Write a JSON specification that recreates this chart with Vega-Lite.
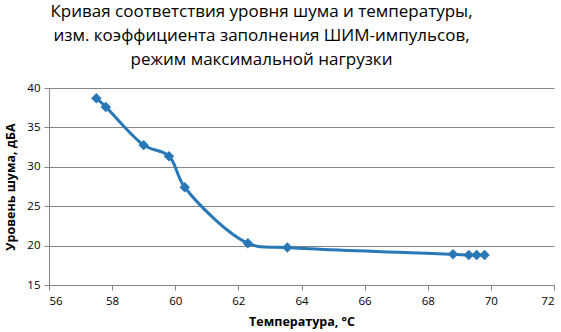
{
  "$schema": "https://vega.github.io/schema/vega-lite/v6.json",
  "autosize": "none",
  "width": 505,
  "height": 197,
  "padding": {"left": 49, "top": 88, "right": 7, "bottom": 47},
  "background": "white",
  "title": {
    "text": ["Кривая соответствия уровня шума и температуры,", "изм. коэффициента  заполнения ШИМ-импульсов,", "режим максимальной  нагрузки"],
    "font": "Open Sans",
    "fontSize": 17,
    "fontWeight": "normal",
    "color": "#000000",
    "anchor": "middle",
    "dx": -40,
    "lineHeight": 24,
    "offset": 13
  },
  "config": {
    "view": {"stroke": null},
    "axis": {
      "labelFont": "Open Sans",
      "labelFontSize": 11.5,
      "labelColor": "#000000",
      "titleFont": "Open Sans",
      "titleFontSize": 12.5,
      "titleFontWeight": "bold",
      "titleColor": "#000000",
      "domainColor": "#868686",
      "tickColor": "#868686",
      "gridColor": "#868686",
      "tickSize": 5
    }
  },
  "data": {
    "values": [
      {"t": 57.5, "n": 38.7},
      {"t": 57.8, "n": 37.6},
      {"t": 59.0, "n": 32.75},
      {"t": 59.8, "n": 31.35},
      {"t": 60.3, "n": 27.4},
      {"t": 62.3, "n": 20.3},
      {"t": 63.55, "n": 19.75},
      {"t": 68.8, "n": 18.9},
      {"t": 69.3, "n": 18.8},
      {"t": 69.55, "n": 18.8},
      {"t": 69.8, "n": 18.8}
    ]
  },
  "encoding": {
    "x": {
      "field": "t", "type": "quantitative",
      "scale": {"domain": [56, 72], "nice": false},
      "axis": {"values": [56, 58, 60, 62, 64, 66, 68, 70, 72], "grid": false, "title": "Температура, °С", "titlePadding": 9, "labelPadding": 5}
    },
    "y": {
      "field": "n", "type": "quantitative",
      "scale": {"domain": [15, 40], "nice": false, "zero": false},
      "axis": {"values": [15, 20, 25, 30, 35, 40], "grid": true, "title": "Уровень шума, дБА", "titlePadding": 9, "labelPadding": 4}
    }
  },
  "layer": [
    {"mark": {"type": "line", "interpolate": "catmull-rom", "color": "#2878b8", "strokeWidth": 3}},
    {"mark": {"type": "point", "shape": "diamond", "filled": true, "opacity": 1, "color": "#2878b8", "size": 110}}
  ]
}
